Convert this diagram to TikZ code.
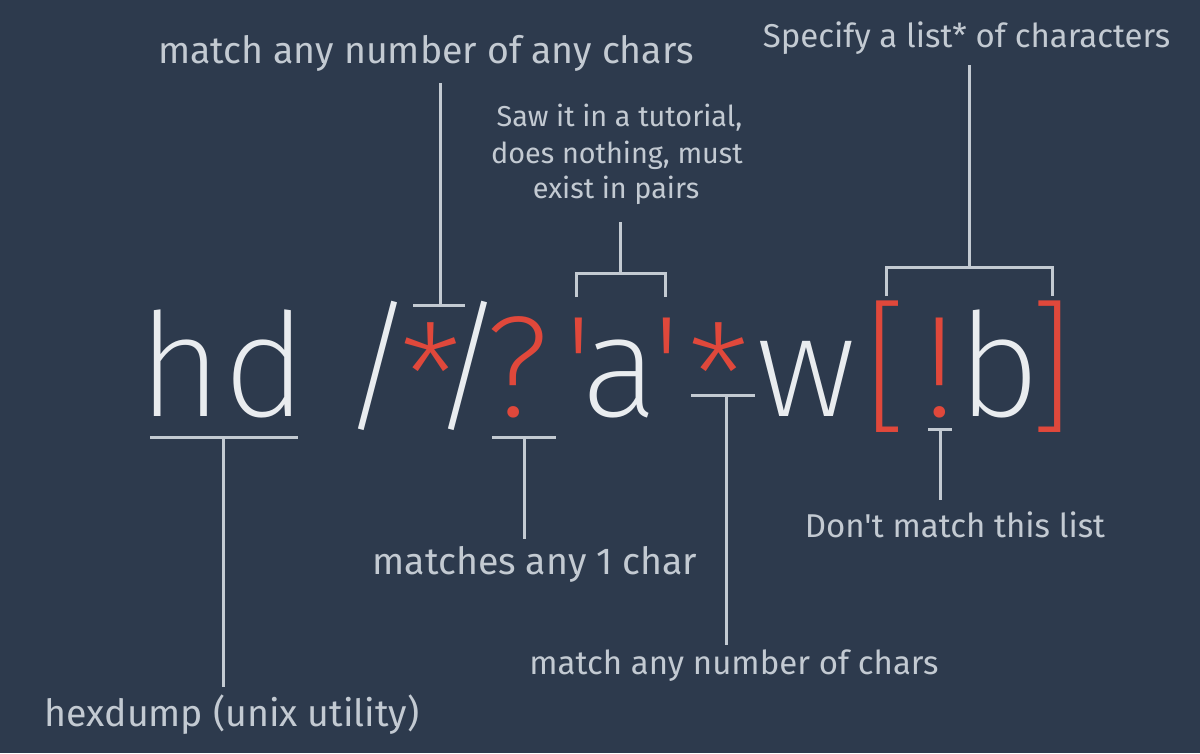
\documentclass[tikz,border=0pt]{standalone}
\usepackage{fontspec}
\newfontfamily\labelfont{Fira Sans}
\newfontfamily\bigfont{Fira Sans ExtraLight}
\definecolor{bg}{HTML}{2D3A4D}
\definecolor{fg}{HTML}{E9ECEF}
\definecolor{lbl}{HTML}{C3CAD2}
\definecolor{hl}{HTML}{E0483B}
\begin{document}
\begin{tikzpicture}[x=1pt,y=-1pt,
  glyph/.style={inner sep=0pt, anchor=base, font=\fontsize{144}{144}\bigfont, text=fg},
  hlglyph/.style={glyph, text=hl},
  lab/.style={inner sep=0pt, anchor=base, font=\fontsize{33}{36}\labelfont, text=lbl},
  biglab/.style={lab, font=\fontsize{37.5}{40}\labelfont},
  smalllab/.style={lab, font=\fontsize{28.8}{33}\labelfont},
  conn/.style={draw=lbl, line width=3pt}]
\fill[bg] (0,0) rectangle (1200,753);
\useasboundingbox (0,0) rectangle (1200,753);
% big expression
\node[glyph]   (g1)  at (180,416) {h};
\node[glyph]   (g2)  at (265,416) {d};
\node[glyph]   (g3)  at (378,416) {/};
\node[hlglyph] (g4)  at (431,428) {*};
\node[glyph]   (g5)  at (468,416) {/};
\node[hlglyph] (g6)  at (517.5,416) {?};
\node[hlglyph] (g7)  at (578.5,416) {'};
\node[glyph]   (g8)  at (620,416) {a};
\node[hlglyph] (g9)  at (666.5,416) {'};
\node[hlglyph] (g10) at (719,428) {*};
\node[glyph]   (g11) at (806,416) {w};
\node[hlglyph] (g12) at (886,416) {[};
\node[hlglyph] (g13) at (940,416) {!};
\node[glyph]   (g14) at (998.5,416) {b};
\node[hlglyph] (g15) at (1051.5,416) {]};
% labels
\node[biglab] (lAny)  at (426,63) {match any number of any chars};
\node[lab] (lList) at (966.5,47) {Specify a list* of characters};
\node[smalllab] (lSaw1) at (619.5,126) {Saw it in a tutorial,};
\node[smalllab] (lSaw2) at (617,163) {does nothing, must};
\node[smalllab] (lSaw3) at (616,198) {exist in pairs};
\node[biglab] (lOne)  at (535,574) {matches any 1 char};
\node[lab] (lNot)  at (955,537) {Don't match this list};
\node[lab] (lNum)  at (734,674) {match any number of chars};
\node[biglab] (lHex)  at (232,726) {hexdump (unix utility)};
% connector points
\coordinate (hdL) at (150,437); \coordinate (hdR) at (298,437);
\coordinate (hdM) at (223,437); \coordinate (hdE) at (223,687);
\coordinate (s1L) at (413,305); \coordinate (s1R) at (465,305);
\coordinate (s1M) at (440,305); \coordinate (s1E) at (440,83);
\coordinate (qL) at (492,437); \coordinate (qR) at (556,437);
\coordinate (qM) at (524,437); \coordinate (qE) at (524,539);
\coordinate (aL) at (576,297); \coordinate (aR) at (665,297);
\coordinate (aM) at (620,273); \coordinate (aE) at (620,222);
\coordinate (s2L) at (691,395); \coordinate (s2R) at (755,395);
\coordinate (s2M) at (726,395); \coordinate (s2E) at (726,645);
\coordinate (bL) at (886,296); \coordinate (bR) at (1052,296);
\coordinate (bM) at (969,267); \coordinate (bE) at (969,65);
\coordinate (nL) at (928,429); \coordinate (nR) at (952,429);
\coordinate (nM) at (940,429); \coordinate (nE) at (940,500);
% connectors
\draw[conn] (hdL) -- (hdR); \draw[conn] (hdM) -- (hdE);
\draw[conn] (s1L) -- (s1R); \draw[conn] (s1M) -- (s1E);
\draw[conn] (qL) -- (qR); \draw[conn] (qM) -- (qE);
\draw[conn] (aL) |- (aM) -| (aR); \draw[conn] (aM) -- (aE);
\draw[conn] (s2L) -- (s2R); \draw[conn] (s2M) -- (s2E);
\draw[conn] (bL) |- (bM) -| (bR); \draw[conn] (bM) -- (bE);
\draw[conn] (nL) -- (nR); \draw[conn] (nM) -- (nE);
\end{tikzpicture}
\end{document}
